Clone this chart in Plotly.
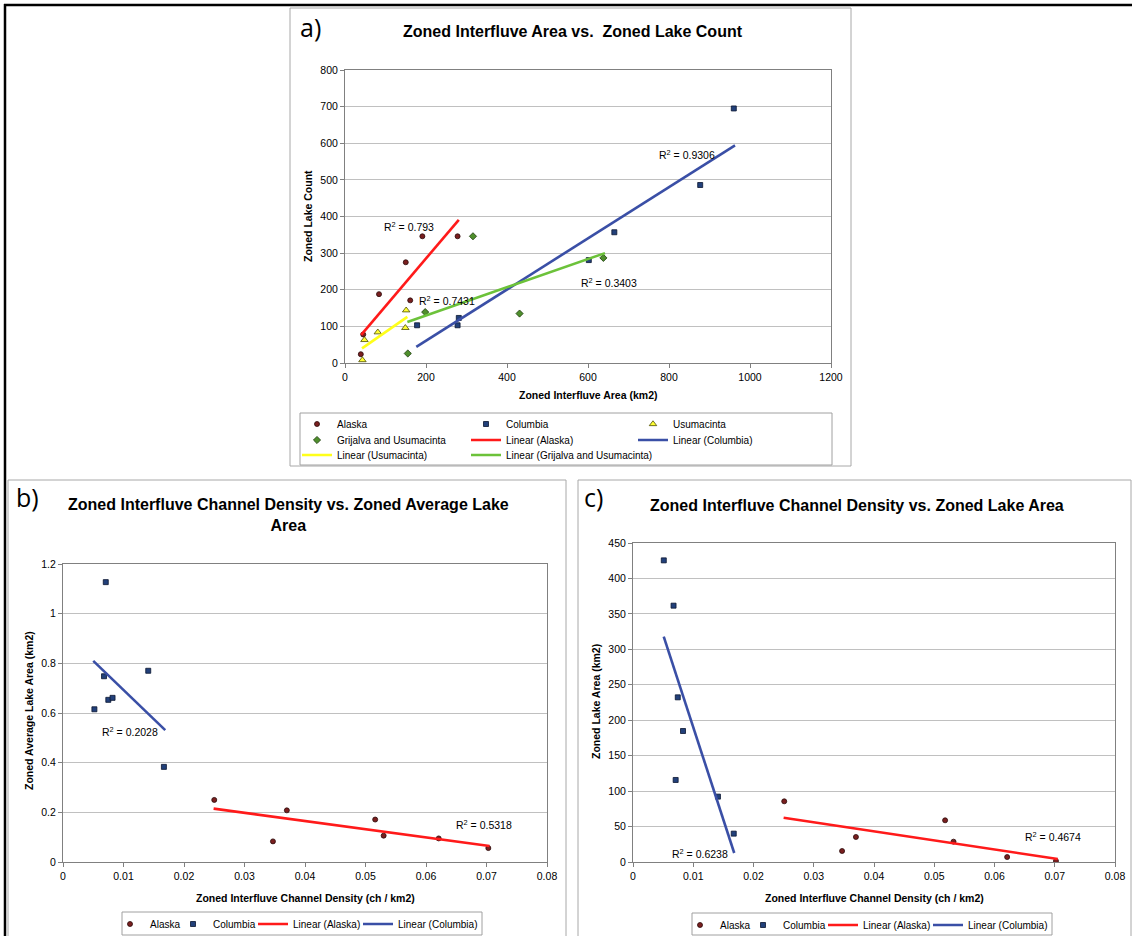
import plotly.graph_objects as go

W, H = 1132, 936

# ---------------- data ----------------
# Panel a: Zoned Interfluve Area (km2) vs Zoned Lake Count
a_alaska_x = [39, 45, 84, 150, 161, 191, 278]
a_alaska_y = [24, 78, 188, 275, 171, 346, 346]
a_columbia_x = [178, 278, 281, 602, 665, 877, 960]
a_columbia_y = [103, 103, 123, 281, 357, 486, 695]
a_usuma_x = [43, 48, 81, 149, 151]
a_usuma_y = [8, 63, 84, 96, 144]
a_grij_x = [155, 198, 316, 431, 638]
a_grij_y = [26, 139, 346, 135, 287]
a_fit_alaska_x = [40, 281]
a_fit_alaska_y = [77, 391]
a_fit_columbia_x = [176, 963]
a_fit_columbia_y = [44, 594]
a_fit_usuma_x = [42, 154]
a_fit_usuma_y = [40, 126]
a_fit_grij_x = [154, 642]
a_fit_grij_y = [112, 300]
a_r2_labels = ["R<sup>2</sup> = 0.793", "R<sup>2</sup> = 0.7431", "R<sup>2</sup> = 0.9306", "R<sup>2</sup> = 0.3403"]
a_r2_x = [157, 252, 844, 651]
a_r2_y = [373, 171, 568, 220]

# Panel b: channel density vs zoned average lake area
b_alaska_x = [0.0250, 0.0347, 0.0370, 0.0516, 0.0530, 0.0621, 0.0703]
b_alaska_y = [0.250, 0.083, 0.208, 0.171, 0.106, 0.095, 0.056]
b_columbia_x = [0.00519, 0.00678, 0.00707, 0.00749, 0.00819, 0.01409, 0.01668]
b_columbia_y = [0.615, 0.748, 1.127, 0.653, 0.661, 0.770, 0.383]
b_fit_alaska_x = [0.0249, 0.0705]
b_fit_alaska_y = [0.215, 0.0645]
b_fit_columbia_x = [0.0050, 0.0169]
b_fit_columbia_y = [0.810, 0.531]
b_r2_labels = ["R<sup>2</sup> = 0.2028", "R<sup>2</sup> = 0.5318"]
b_r2_x = [0.0111, 0.0696]
b_r2_y = [0.524, 0.1505]

# Panel c: channel density vs zoned lake area
c_alaska_x = [0.0251, 0.0347, 0.0370, 0.0518, 0.0532, 0.0621, 0.0702]
c_alaska_y = [85.6, 15.5, 35.3, 58.8, 28.7, 7.0, 1.4]
c_columbia_x = [0.00511, 0.00673, 0.00708, 0.00743, 0.0083, 0.0141, 0.01672]
c_columbia_y = [425.5, 361.6, 115.7, 232.3, 184.8, 92.2, 40.0]
c_fit_alaska_x = [0.0250, 0.0705]
c_fit_alaska_y = [62.5, 4.2]
c_fit_columbia_x = [0.0051, 0.0168]
c_fit_columbia_y = [318, 12.7]
c_r2_labels = ["R<sup>2</sup> = 0.6238", "R<sup>2</sup> = 0.4674"]
c_r2_x = [0.0111, 0.0697]
c_r2_y = [11.8, 35.3]

# ---------------- styles ----------------
FONT = "Arial, Liberation Sans, sans-serif"
ALASKA = dict(symbol="circle", size=5, color="#7a1f1f", line=dict(color="#2a0a0a", width=0.8))
COLUMBIA = dict(symbol="square", size=5, color="#22407a", line=dict(color="#0a1530", width=0.8))
USUMA = dict(symbol="triangle-up", size=6.5, color="#ffff33", line=dict(color="#4d4d00", width=0.8))
GRIJ = dict(symbol="diamond", size=5.5, color="#4f8f2c", line=dict(color="#1a3a0a", width=0.8))
RED, BLUE, YELLOW, GREEN = "#ff1a1a", "#3a4fa6", "#ffff1a", "#6cc23a"


def px_x(p):
    return p / W


def px_y(p):
    return 1 - p / H


fig = go.Figure()
legend_defs = {}
TEXT_OFFSET = 40  # plotly legend: text starts 40px right of the legend's left edge


def add_legend(lid, text_x, row_y):
    legend_defs[lid] = dict(
        x=px_x(text_x - TEXT_OFFSET), y=px_y(row_y), xanchor="left", yanchor="middle",
        orientation="v", bgcolor="rgba(255,255,255,0)", borderwidth=0,
        font=dict(family=FONT, size=10, color="#000"), itemclick=False, itemdoubleclick=False)


counter = [0]


def next_lid():
    counter[0] += 1
    return "legend" if counter[0] == 1 else "legend%d" % counter[0]


def pts(x, y, name, marker, xa, ya, leg_pos):
    lid = next_lid()
    add_legend(lid, *leg_pos)
    fig.add_trace(go.Scatter(x=x, y=y, mode="markers", name=name, marker=marker,
                             xaxis=xa, yaxis=ya, legend=lid, hoverinfo="x+y"))


def fit(x, y, name, color, xa, ya, leg_pos):
    lid = next_lid()
    add_legend(lid, *leg_pos)
    fig.add_trace(go.Scatter(x=x, y=y, mode="lines", name=name, line=dict(color=color, width=2.6),
                             xaxis=xa, yaxis=ya, legend=lid, hoverinfo="skip"))


# legend text positions (px) : columns / rows
A_COLS = [337, 506, 673]
A_ROWS = [424, 440, 455]
B_TEXT = [150, 213, 293, 398]
C_TEXT = [720, 783, 863, 968]
B_ROW, C_ROW = 924, 925

# Panel a
pts(a_alaska_x, a_alaska_y, "Alaska", ALASKA, "x", "y", (A_COLS[0], A_ROWS[0]))
pts(a_columbia_x, a_columbia_y, "Columbia", COLUMBIA, "x", "y", (A_COLS[1], A_ROWS[0]))
pts(a_usuma_x, a_usuma_y, "Usumacinta", USUMA, "x", "y", (A_COLS[2], A_ROWS[0]))
pts(a_grij_x, a_grij_y, "Grijalva and Usumacinta", GRIJ, "x", "y", (A_COLS[0], A_ROWS[1]))
fit(a_fit_alaska_x, a_fit_alaska_y, "Linear (Alaska)", RED, "x", "y", (A_COLS[1], A_ROWS[1]))
fit(a_fit_columbia_x, a_fit_columbia_y, "Linear (Columbia)", BLUE, "x", "y", (A_COLS[2], A_ROWS[1]))
fit(a_fit_usuma_x, a_fit_usuma_y, "Linear (Usumacinta)", YELLOW, "x", "y", (A_COLS[0], A_ROWS[2]))
fit(a_fit_grij_x, a_fit_grij_y, "Linear (Grijalva and Usumacinta)", GREEN, "x", "y", (A_COLS[1], A_ROWS[2]))

# Panel b
pts(b_alaska_x, b_alaska_y, "Alaska", ALASKA, "x2", "y2", (B_TEXT[0], B_ROW))
pts(b_columbia_x, b_columbia_y, "Columbia", COLUMBIA, "x2", "y2", (B_TEXT[1], B_ROW))
fit(b_fit_alaska_x, b_fit_alaska_y, "Linear (Alaska)", RED, "x2", "y2", (B_TEXT[2], B_ROW))
fit(b_fit_columbia_x, b_fit_columbia_y, "Linear (Columbia)", BLUE, "x2", "y2", (B_TEXT[3], B_ROW))

# Panel c
pts(c_alaska_x, c_alaska_y, "Alaska", ALASKA, "x3", "y3", (C_TEXT[0], C_ROW))
pts(c_columbia_x, c_columbia_y, "Columbia", COLUMBIA, "x3", "y3", (C_TEXT[1], C_ROW))
fit(c_fit_alaska_x, c_fit_alaska_y, "Linear (Alaska)", RED, "x3", "y3", (C_TEXT[2], C_ROW))
fit(c_fit_columbia_x, c_fit_columbia_y, "Linear (Columbia)", BLUE, "x3", "y3", (C_TEXT[3], C_ROW))

tickfont = dict(family=FONT, size=10.5, color="#000")


def xax(domain, rng, dtick, anchor):
    return dict(domain=domain, range=rng, dtick=dtick, tick0=0, anchor=anchor,
                showgrid=False, zeroline=False, showline=True, mirror=True,
                linecolor="#808080", linewidth=1, ticks="outside", ticklen=4,
                tickcolor="#808080", tickfont=tickfont, fixedrange=True)


def yax(domain, rng, dtick, anchor):
    return dict(domain=domain, range=rng, dtick=dtick, tick0=0, anchor=anchor,
                showgrid=True, gridcolor="#c0c0c0", gridwidth=1, zeroline=False,
                showline=True, mirror=True, linecolor="#808080", linewidth=1,
                ticks="outside", ticklen=4, tickcolor="#808080", tickfont=tickfont,
                fixedrange=True)


layout = dict(
    width=W, height=H, margin=dict(l=0, r=0, t=0, b=0, autoexpand=False),
    paper_bgcolor="white", plot_bgcolor="white", showlegend=True,
    xaxis=xax([px_x(345), px_x(831)], [0, 1200], 200, "y"),
    yaxis=yax([px_y(363), px_y(70)], [0, 800], 100, "x"),
    xaxis2=xax([px_x(63), px_x(547)], [0, 0.08], 0.01, "y2"),
    yaxis2=yax([px_y(862), px_y(564)], [0, 1.2], 0.2, "x2"),
    xaxis3=xax([px_x(633), px_x(1115)], [0, 0.08], 0.01, "y3"),
    yaxis3=yax([px_y(862), px_y(543)], [0, 450], 50, "x3"),
)
layout.update(legend_defs)
fig.update_layout(**layout)

ann = []
# R^2 labels
for xa, ya, labs, xs, ys in [("x", "y", a_r2_labels, a_r2_x, a_r2_y),
                             ("x2", "y2", b_r2_labels, b_r2_x, b_r2_y),
                             ("x3", "y3", c_r2_labels, c_r2_x, c_r2_y)]:
    for t, xv, yv in zip(labs, xs, ys):
        ann.append(dict(text=t, x=xv, y=yv, xref=xa, yref=ya, showarrow=False,
                        font=dict(family=FONT, size=10.5, color="#000")))

bold = lambda s: "<b>" + s + "</b>"
title_font = dict(family=FONT, size=16, color="#000")
axis_font = dict(family=FONT, size=10.5, color="#000")
panel_font = dict(family="Open Sans, DejaVu Sans, sans-serif", size=25, color="#000")


def pann(text, x, y, font, **kw):
    d = dict(text=text, x=px_x(x), y=px_y(y), xref="paper", yref="paper", showarrow=False,
             font=font, xanchor="center", yanchor="middle")
    d.update(kw)
    ann.append(d)


# titles
pann(bold("Zoned Interfluve Area vs.  Zoned Lake Count"), 573, 32, title_font)
pann(bold("Zoned Interfluve Channel Density vs. Zoned Average Lake<br>Area"), 288, 515, title_font)
pann(bold("Zoned Interfluve Channel Density vs. Zoned Lake Area"), 857, 505, title_font)
# axis titles
pann(bold("Zoned Interfluve Area (km2)"), 588, 395, axis_font)
pann(bold("Zoned Lake Count"), 308, 216, axis_font, textangle=-90)
pann(bold("Zoned Interfluve Channel Density (ch / km2)"), 305, 898, axis_font)
pann(bold("Zoned Average Lake Area (km2)"), 29, 711, axis_font, textangle=-90)
pann(bold("Zoned Interfluve Channel Density (ch / km2)"), 874, 898, axis_font)
pann(bold("Zoned Lake Area (km2)"), 596, 702, axis_font, textangle=-90)
# panel letters
pann("a)", 298, 27, panel_font, xanchor="left")
pann("b)", 14, 497, panel_font, xanchor="left")
pann("c)", 582, 497, panel_font, xanchor="left")

fig.update_layout(annotations=ann)

shapes = []


def rect(x0, y0, x1, y1, color, width):
    shapes.append(dict(type="rect", xref="paper", yref="paper", x0=px_x(x0), x1=px_x(x1),
                       y0=px_y(y1), y1=px_y(y0), line=dict(color=color, width=width),
                       fillcolor="rgba(0,0,0,0)", layer="below"))


def line(x0, y0, x1, y1, color, width):
    shapes.append(dict(type="line", xref="paper", yref="paper", x0=px_x(x0), x1=px_x(x1),
                       y0=px_y(y0), y1=px_y(y1), line=dict(color=color, width=width)))


# panel frames
rect(290, 8, 851, 466, "#a8a8a8", 1)
rect(8, 480, 566, 940, "#a8a8a8", 1)
rect(578, 480, 1131, 940, "#a8a8a8", 1)
# legend frames
rect(300, 413, 832, 465, "#a0a0a0", 1)
rect(122, 912, 482, 935, "#a0a0a0", 1)
rect(692, 913, 1052, 935, "#a0a0a0", 1)
# outer black frame
line(4, 5, 1134, 5, "#000", 2.5)
line(5, 4, 5, 940, "#000", 2.5)
fig.update_layout(shapes=shapes)

fig.write_html("out.html")
